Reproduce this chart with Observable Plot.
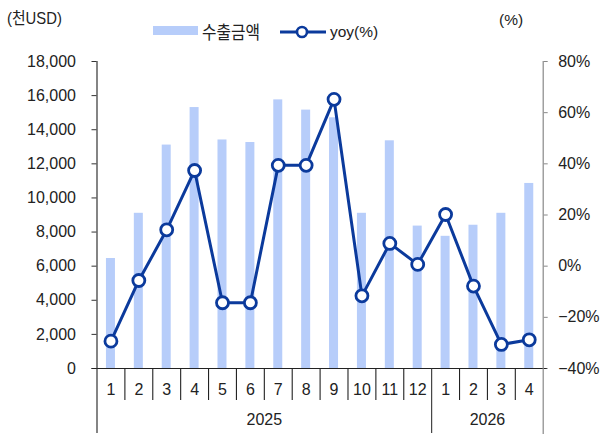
<!DOCTYPE html>
<html><head><meta charset="utf-8">
<script src="https://cdn.jsdelivr.net/npm/d3@7"></script>
<script src="https://cdn.jsdelivr.net/npm/@observablehq/plot@0.6"></script>
<style>
body{margin:0;background:#fff;font-family:"Liberation Sans",Arial,"Noto Sans CJK KR",sans-serif;color:#222}
#wrap{width:609px;height:434px;position:relative;overflow:hidden}
#head{position:relative;height:48px}
#head span,#head div{position:absolute;white-space:nowrap;line-height:20px;font-size:15.5px}
.sw{background:#b7cdfa;height:9px;width:45px}
</style></head><body>
<div id="wrap">
  <div id="head">
    <span style="left:7px;top:8px;font-size:16.5px;transform:scaleX(0.9);transform-origin:0 50%">(천USD)</span>
    <span style="left:499px;top:10px;font-size:15.5px">(%)</span>
    <div class="sw" style="left:153px;top:26px"></div>
    <span style="left:202px;top:21px;font-family:'Noto Sans CJK KR',sans-serif;font-size:18px;transform:scaleX(0.875);transform-origin:0 50%">수출금액</span>
    <svg style="position:absolute;left:280px;top:24px" width="46" height="16"><line x1="0" x2="46" y1="8" y2="8" stroke="#0b3a9c" stroke-width="3"/><circle cx="22" cy="8" r="5" fill="#fff" stroke="#0b3a9c" stroke-width="2.6"/></svg>
    <span style="left:330px;top:22px">yoy(%)</span>
  </div>
  <div id="chart"></div>
</div>
<script>
const years = ["2025","2025","2025","2025","2025","2025","2025","2025","2025","2025","2025","2025","2026","2026","2026","2026"];
const months = ["1","2","3","4","5","6","7","8","9","10","11","12","1","2","3","4"];
const exportValues = [6450, 9100, 13100, 15300, 13400, 13250, 15750, 15150, 14700, 9100, 13350, 8350, 7750, 8400, 9100, 10850];
const yoyValues = [-29.3, -5.6, 14.2, 37.4, -14.3, -14.3, 39.4, 39.4, 65.2, -11.6, 8.9, 0.7, 20.2, -7.8, -30.6, -28.8];
const leftTicks = [0, 2000, 4000, 6000, 8000, 10000, 12000, 14000, 16000, 18000];
const rightTicks = [-40, -20, 0, 20, 40, 60, 80];

const barColor = "#b7cdfa", lineColor = "#0b3a9c";
const W = 609, H = 386, mL = 96.5, mR = 66.3, mT = 13, mB = 66;
const plotH = H - mT - mB;
const FS = 16;
const leftMax = 18000, rMin = -40, rMax = 80;
const toLeft = v => (v - rMin) * leftMax / (rMax - rMin);

const keys = years.map((y, i) => `${y}-${months[i]}`);
const step = (W - mL - mR) / keys.length;
const data = keys.map((k, i) => ({key: k, year: years[i], month: months[i], value: exportValues[i], yoy: yoyValues[i], yv: toLeft(yoyValues[i])}));

const yearList = [...new Set(years)];
const firstKeys = yearList.map(y => keys[years.indexOf(y)]);
const yearLabels = yearList.map(y => {
  const ks = keys.filter((k, i) => years[i] === y);
  return {year: y, key: ks[Math.floor(ks.length / 2)], even: ks.length % 2 === 0};
});
const monthSeps = keys.filter(k => !firstKeys.includes(k));
const barW = 9;
const fmtPct = d => { const v = Math.round(d * (rMax - rMin) / leftMax + rMin); return (v < 0 ? "\u2212" + (-v) : v) + "%"; };

const plot = Plot.plot({
  width: W, height: H,
  marginLeft: mL, marginRight: mR, marginTop: mT, marginBottom: mB,
  style: {fontFamily: "'Liberation Sans', Arial, sans-serif", fontSize: FS + "px", color: "#222", overflow: "visible"},
  x: {domain: keys, padding: 0, round: false, axis: null},
  y: {domain: [0, leftMax]},
  marks: [
    Plot.barY(data, {x: "key", y: "value", fill: barColor, insetLeft: (step - barW) / 2, insetRight: (step - barW) / 2}),
    Plot.axisY({anchor: "left", ticks: leftTicks, tickFormat: d3.format(","), tickSize: 5, tickPadding: 16, stroke: "#333", fill: "#222", fontSize: FS}),
    Plot.axisY({anchor: "right", ticks: rightTicks.map(toLeft), tickFormat: fmtPct, tickSize: 4, tickPadding: 11, stroke: "#888", fill: "#222", fontSize: FS}),
    Plot.ruleY([0], {insetLeft: -5, insetRight: -4, stroke: "#222", strokeWidth: 1.2}),
    Plot.ruleX([keys[0]], {x: d => d, dx: -step / 2, insetBottom: -65, stroke: "#333", strokeWidth: 1.2}),
    Plot.ruleX([keys[keys.length - 1]], {x: d => d, dx: step / 2, insetBottom: -66, stroke: "#888", strokeWidth: 1.2}),
    Plot.ruleX(firstKeys.slice(1), {x: d => d, dx: -step / 2, insetTop: plotH, insetBottom: -65, stroke: "#333", strokeWidth: 1.1}),
    Plot.ruleX(monthSeps, {x: d => d, dx: -step / 2, insetTop: plotH, insetBottom: -32, stroke: "#222", strokeWidth: 1.1}),
    Plot.text(data, {x: "key", y: 0, text: "month", dy: 21, lineAnchor: "middle", fill: "#222", fontSize: FS}),
    Plot.text(yearLabels.filter(d => d.even), {x: "key", y: 0, text: "year", dx: -step / 2, dy: 51, lineAnchor: "middle", fill: "#222", fontSize: FS}),
    Plot.text(yearLabels.filter(d => !d.even), {x: "key", y: 0, text: "year", dy: 51, lineAnchor: "middle", fill: "#222", fontSize: FS}),
    Plot.line(data, {x: "key", y: "yv", stroke: lineColor, strokeWidth: 3}),
    Plot.dot(data, {x: "key", y: "yv", r: 6, fill: "white", stroke: lineColor, strokeWidth: 2.8})
  ]
});
document.getElementById("chart").append(plot);
</script>
</body></html>
